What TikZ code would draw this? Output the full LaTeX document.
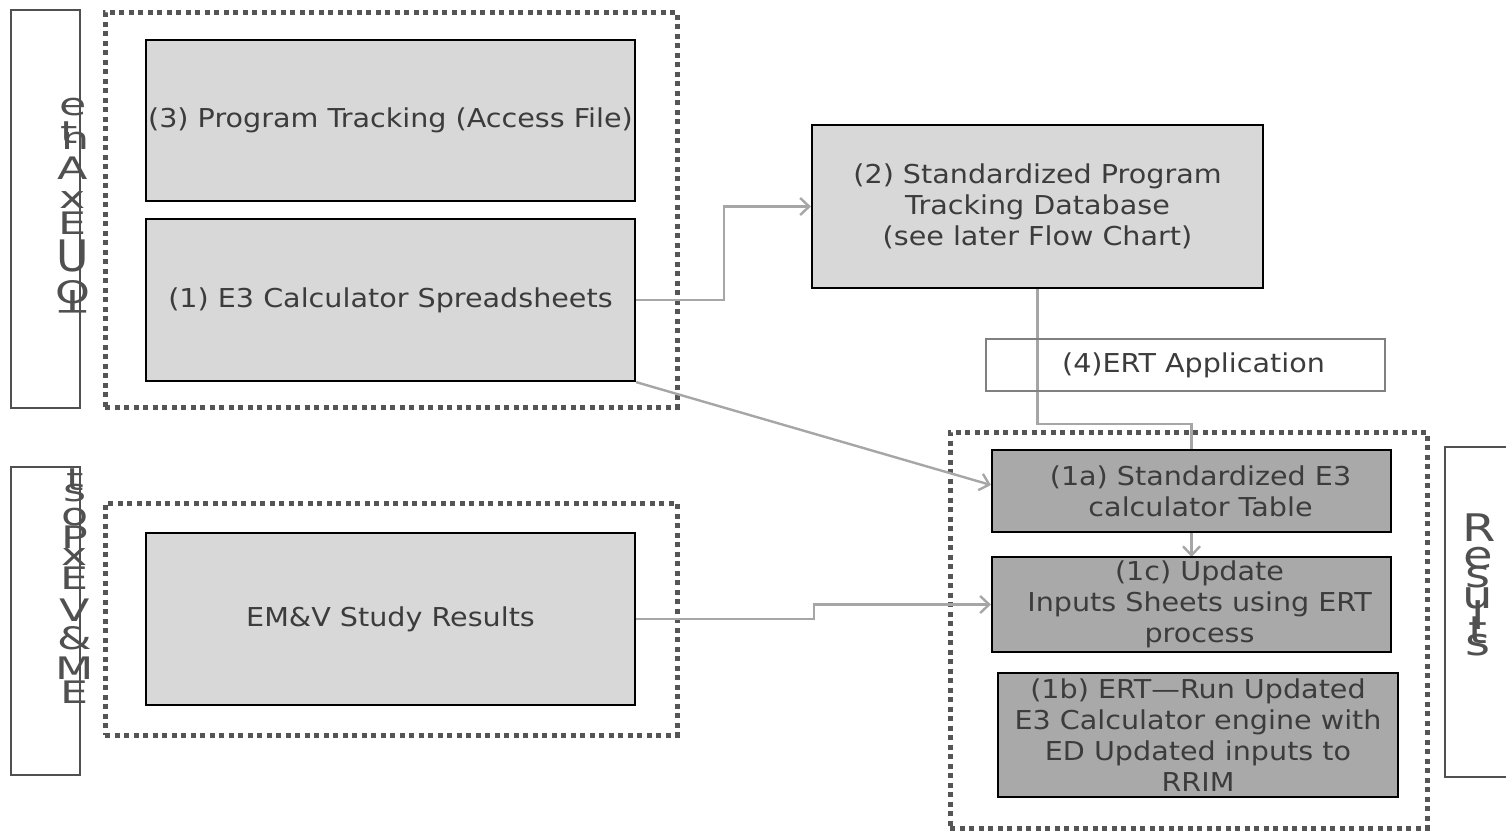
\documentclass[tikz,border=0pt]{standalone}
\usepackage{fontspec}
\setmainfont[FakeStretch=1.1]{DejaVu Sans}
\usetikzlibrary{arrows.meta,backgrounds}
\definecolor{lightfill}{HTML}{D8D8D8}
\definecolor{darkfill}{HTML}{A9A9A9}
\definecolor{linegray}{HTML}{A6A6A6}
\definecolor{dotgray}{HTML}{555555}
\definecolor{txtgray}{HTML}{3C3C3C}
\definecolor{labgray}{HTML}{505050}
\begin{document}
\begin{tikzpicture}[x=1pt,y=-1pt,
  boxbase/.style={draw=black, line width=2.2pt, text=txtgray, align=center, inner sep=0pt,
    font=\fontsize{26}{31}\selectfont},
  litebox/.style={boxbase, fill=lightfill},
  darkbox/.style={boxbase, fill=darkfill},
  plainbox/.style={boxbase, draw=gray, line width=2pt},
  dotbox/.style={draw=dotgray, line width=5pt, dash pattern=on 5pt off 4.5pt, inner sep=0pt},
  labbox/.style={draw=labgray, line width=2pt, inner sep=0pt},
  glyph/.style={text=labgray, inner sep=0pt, xscale=1.3, font=\fontsize{31}{31}\selectfont},
  bigglyph/.style={text=labgray, inner sep=0pt, xscale=1.15, font=\fontsize{38}{38}\selectfont},
  conn/.style={draw=linegray, line width=2.4pt, -{Straight Barb[length=9pt,width=17pt,line width=2.4pt]}}
]
\useasboundingbox (0,0) rectangle (1506,831);

% side label boxes
\node[labbox, minimum width=69pt, minimum height=398pt] (labA) at (45.5,209) {};
\node[labbox, minimum width=69pt, minimum height=308pt] (labB) at (45.5,621) {};
\coordinate (rtop) at (1506,447);
\coordinate (rbot) at (1506,777);
\draw[labgray, line width=2pt] (rtop) -- (1445,447) -- (1445,777) -- (rbot);

% group (dotted) boxes
\node[dotbox, minimum width=572pt, minimum height=395pt] (grpA) at (391,209.5) {};
\node[dotbox, minimum width=572pt, minimum height=232pt] (grpB) at (391,619) {};
\node[dotbox, minimum width=477pt, minimum height=396pt] (grpC) at (1188.5,630) {};

% main boxes
\node[litebox, minimum width=489pt, minimum height=161pt] (p3) at (390.5,120.5) {(3) Program Tracking (Access File)};
\node[litebox, minimum width=489pt, minimum height=162pt] (p1) at (390.5,300) {(1) E3 Calculator Spreadsheets};
\node[litebox, minimum width=451pt, minimum height=163pt] (p2) at (1037.5,206.5) {(2) Standardized Program\\Tracking Database\\(see later Flow Chart)};
\node[plainbox, minimum width=399pt, minimum height=52pt] (p4) at (1185.5,365) {\hspace*{16pt}(4)ERT Application};
\node[litebox, minimum width=489pt, minimum height=172pt] (pem) at (390.5,619) {EM\&V Study Results};

% connectors behind the dark boxes
\begin{scope}[on background layer]
\draw[conn] (p2.south) -- (1037.5,424) -| (1191.5,557);
\end{scope}

\node[darkbox, minimum width=399pt, minimum height=82pt] (p1a) at (1191.5,491) {\hspace*{18pt}(1a) Standardized E3\\\hspace*{18pt}calculator Table};
\node[darkbox, minimum width=399pt, minimum height=95pt] (p1c) at (1191.5,604.5) {\hspace*{16pt}(1c) Update\\\hspace*{16pt}Inputs Sheets using ERT\\\hspace*{16pt}process};
\node[darkbox, minimum width=400pt, minimum height=124pt] (p1b) at (1198,735) {(1b) ERT---Run Updated\\E3 Calculator engine with\\ED Updated inputs to\\RRIM};

\draw[conn] (p1.east) -- ++(88,0) |- (p2.west);
\draw[conn] (p1.south east) -- ([yshift=6pt]p1a.west);
\draw[conn] (pem.east) -- ++(178,0) |- (p1c.west);

% vertical glyph stacks
\node[glyph] (a1) at (73,107) {e};
\node[glyph] (a2) at (69,133) {t};
\node[glyph] (a3) at (76,141) {n};
\node[glyph] (a4) at (73,168) {A};
\node[glyph] (a5) at (73,200) {x};
\node[glyph] (a6) at (73,223) {E};
\node[glyph, yscale=1.4] (a7) at (73,256) {U};
\node[glyph] (a8) at (73,292) {O};
\node[glyph, rotate=180] (a9) at (73,302) {T};

\node[glyph] (b1) at (75,480) {t};
\node[glyph] (b2) at (75,493) {s};
\node[glyph] (b3) at (75,517) {o};
\node[glyph] (b4) at (75,537) {P};
\node[glyph] (b5) at (75,557) {x};
\node[glyph] (b6) at (75,578) {E};
\node[glyph] (b7) at (75,610) {V};
\node[glyph] (b8) at (75,638) {\&};
\node[glyph] (b9) at (75,668) {M};
\node[glyph] (b10) at (75,692) {E};

\node[bigglyph] (c1) at (1479,528) {R};
\node[bigglyph] (c2) at (1478,558) {e};
\node[bigglyph] (c3) at (1478,577) {s};
\node[bigglyph] (c4) at (1478,598) {u};
\node[bigglyph] (c5) at (1478,615) {l};
\node[bigglyph] (c6) at (1478,630) {t};
\node[bigglyph] (c7) at (1478,645) {s};
\end{tikzpicture}
\end{document}
